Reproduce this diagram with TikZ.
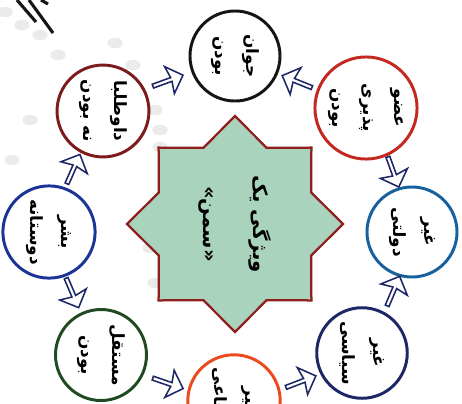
\documentclass[tikz,border=0pt]{standalone}
\usepackage{fontspec}
\usetikzlibrary{shapes.geometric,shapes.arrows}
\newfontfamily\farsi[Script=Arabic]{DejaVu Sans}
\TeXXeTstate=1
\newcommand{\fa}[1]{\beginR #1\endR}
\definecolor{starfill}{HTML}{A9D3BD}
\definecolor{starline}{HTML}{8E1F1C}
\definecolor{cblack}{HTML}{151515}
\definecolor{cred}{HTML}{C42820}
\definecolor{cblue}{HTML}{16609E}
\definecolor{cnavy}{HTML}{1D2766}
\definecolor{corange}{HTML}{EC4A1E}
\definecolor{cgreen}{HTML}{1F4A22}
\definecolor{croyal}{HTML}{1B3596}
\definecolor{cmaroon}{HTML}{7C1A1C}
\tikzset{
  ring/.style={circle, draw=#1, line width=2.1pt, fill=white, minimum size=2.25cm,
    align=center, rotate=-90, font=\farsi\bfseries\fontsize{12}{22}\selectfont},
  blockarrow/.style={single arrow, draw=cnavy, fill=white, line width=1.1pt,
    minimum height=0.8cm, minimum width=0.72cm, single arrow head extend=0.12cm,
    single arrow head indent=0.05cm, inner sep=0pt},
  dot/.style={ellipse, fill=gray!16, minimum width=0.38cm, minimum height=0.26cm, inner sep=0pt}
}
\begin{document}
\begin{tikzpicture}[x=0.025cm, y=-0.025cm]
\useasboundingbox (0,0) rectangle (462,403);
\clip (0,0) rectangle (462,403);
\fill[white] (0,0) rectangle (462,403);
% faint background dots
\foreach \px/\py in {5/12, 22/25, 40/35, 58/55, 115/43, 133/65, 155/110, 160/130, 160/147, 155/283, 150/248, 30/120, 12/160}
  \node[dot] at (\px,\py) {};
% corner strokes
\draw[line width=2.2pt, cblack] (17,0) -- (36,22);
\draw[line width=2.2pt, cblack] (29,0) -- (53,33);
\draw[line width=2.2pt, cblack] (41,0) -- (48,4);

% centre star
\node[star, star points=8, star point ratio=1.31, minimum size=5.4cm, inner sep=0pt,
      draw=starline, fill=starfill, line width=1.6pt, rotate=-90,
      align=center, font=\farsi\bfseries\fontsize{14}{36}\selectfont] (sman) at (235,224)
  {\fa{ویژگی یک}\\\fa{«سمن»}};

% circles
\node[ring=cblack] (javan) at (235,56) {\fa{جوان}\\\fa{بودن}};
\node[ring=cred] (ozv) at (366,108) {\fa{عضو}\\\fa{پذیری}\\\fa{بودن}};
\node[ring=cblue] (dolati) at (412,232) {\fa{غیر}\\\fa{دولتی}};
\node[ring=cnavy] (siasi) at (362,353) {\fa{غیر}\\\fa{سیاسی}};
\node[ring=corange] (entefai) at (234,401) {\fa{غیر}\\\fa{انتفاعی}};
\node[ring=cgreen] (mostaghel) at (101,355) {\fa{مستقل}\\\fa{بودن}};
\node[ring=croyal] (bashar) at (49,232) {\fa{بشر}\\\fa{دوستانه}};
\node[ring=cmaroon] (davtalab) at (103,111) {\fa{داوطلبا}\\\fa{نه بودن}};

% arrows between circles
\node[blockarrow, rotate=20] (a1) at (167,81) {};
\node[blockarrow, rotate=158] (a2) at (298,82) {};
\node[blockarrow, rotate=-70] (a3) at (393,171) {};
\node[blockarrow, rotate=67] (a4) at (393,292) {};
\node[blockarrow, rotate=21] (a5) at (300,382) {};
\node[blockarrow, rotate=-19] (a6) at (167,383) {};
\node[blockarrow, rotate=-67] (a7) at (72,292) {};
\node[blockarrow, rotate=66] (a8) at (73,170) {};
\end{tikzpicture}
\end{document}
